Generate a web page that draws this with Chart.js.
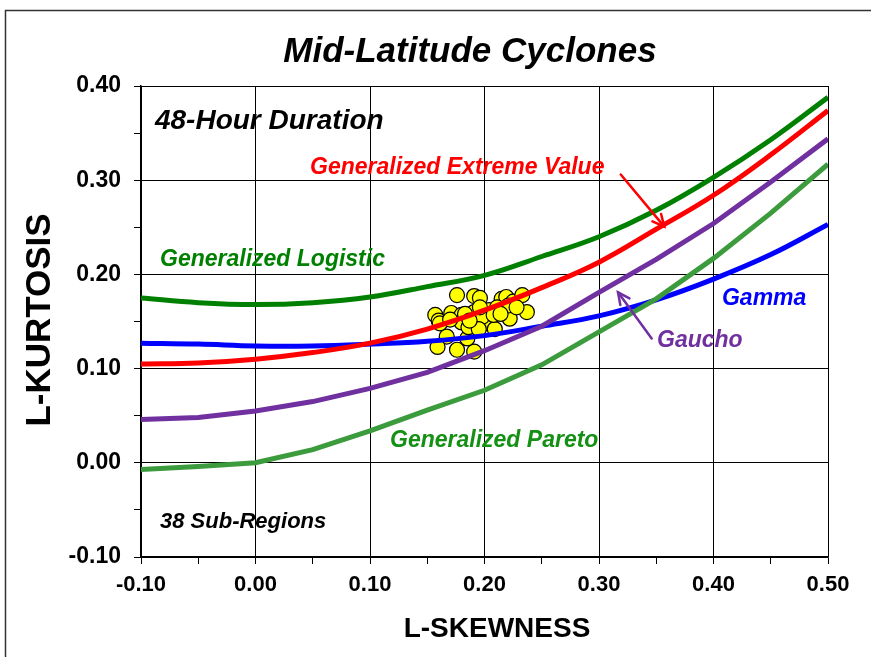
<!DOCTYPE html>
<html><head><meta charset="utf-8">
<script src="https://cdn.jsdelivr.net/npm/chart.js@4.4.1/dist/chart.umd.min.js"></script>
<style>html,body{margin:0;padding:0;background:#fff;overflow:hidden}#wrap{position:absolute;left:0;top:0;width:871px;height:657px}</style>
</head><body><div id="wrap"><canvas id="c" width="871" height="657"></canvas></div>
<script>
// L-skewness grid for theoretical curves
const skewGrid = [-0.10,-0.05,0.00,0.05,0.10,0.15,0.20,0.25,0.30,0.35,0.40,0.45,0.50];
const gloKurt    = [0.175,0.170,0.168,0.170,0.176,0.187,0.199,0.219,0.240,0.268,0.303,0.343,0.388];
const gevKurt    = [0.105,0.106,0.110,0.117,0.127,0.142,0.162,0.186,0.213,0.248,0.284,0.327,0.374];
const gammaKurt  = [0.127,0.126,0.124,0.124,0.126,0.129,0.135,0.145,0.156,0.173,0.195,0.221,0.253];
const gauchoKurt = [0.046,0.048,0.055,0.065,0.079,0.096,0.119,0.145,0.181,0.216,0.254,0.298,0.344];
const gpaKurt    = [-0.007,-0.004,0.000,0.014,0.034,0.056,0.077,0.104,0.139,0.174,0.217,0.265,0.317];
// 38 sub-regions (L-skewness, L-kurtosis)
const siteSkew = [0.176,0.191,0.196,0.157,0.160,0.171,0.180,0.180,0.191,0.192,0.201,0.204,0.215,0.219,0.225,0.233,0.216,0.222,0.237,0.211,0.167,0.159,0.176,0.191,0.185,0.186,0.198,0.209,0.221,0.183,0.195,0.208,0.228,0.187,0.214,0.196,0.161,0.170];
const siteKurt = [0.178,0.177,0.175,0.157,0.151,0.159,0.157,0.149,0.160,0.151,0.148,0.162,0.174,0.176,0.171,0.178,0.160,0.153,0.160,0.165,0.134,0.123,0.120,0.118,0.132,0.144,0.155,0.142,0.167,0.158,0.142,0.157,0.165,0.151,0.158,0.165,0.148,0.152];
// tick labels
const xTickLabels = ['-0.10','0.00','0.10','0.20','0.30','0.40','0.50'];
const yTickLabels = ['-0.10','0.00','0.10','0.20','0.30','0.40'];
const yTickValues = [-0.10,-0.05,0.00,0.05,0.10,0.15,0.20,0.25,0.30,0.35,0.40];

const FONT = '"Liberation Sans", Arial, sans-serif';
const curve = (ys) => skewGrid.map((x,i)=>({x:x,y:ys[i]}));
const lineDs = (label, ys, color, order, tension) => ({
  label, data: curve(ys), showLine: true, borderColor: color, borderWidth: 5,
  pointRadius: 0, pointHoverRadius: 0, fill: false, order, tension: tension
});

const annot = {
  id: 'annot',
  afterDraw(chart) {
    const c = chart.ctx, X = chart.scales.x, Y = chart.scales.y;
    const px = v => X.getPixelForValue(v), py = v => Y.getPixelForValue(v);
    c.save();
    // outer frame
    c.strokeStyle = '#333'; c.lineWidth = 1.5;
    c.beginPath(); c.moveTo(5.5, 660); c.lineTo(5.5, 10.5); c.lineTo(875, 10.5); c.stroke();
    // title
    c.fillStyle = '#000'; c.textAlign = 'center'; c.textBaseline = 'middle';
    c.font = 'italic bold 35px ' + FONT;
    c.fillText('Mid-Latitude Cyclones', 470, 52);
    // axis titles
    c.font = 'bold 28px ' + FONT;
    c.fillText('L-SKEWNESS', 497, 629);
    c.font = 'bold 35px ' + FONT;
    c.save(); c.translate(40, 320); c.rotate(-Math.PI/2);
    c.fillText('L-KURTOSIS', 0, 0); c.restore();
    // annotations
    c.textAlign = 'left';
    const txt = (s, x, y, color, size) => { c.fillStyle = color; c.font = 'italic bold ' + size + 'px ' + FONT; c.fillText(s, px(x), py(y)); };
    txt('48-Hour Duration', -0.0878, 0.363, '#000', 28);
    txt('38 Sub-Regions', -0.0834, -0.0628, '#000', 22);
    txt('Generalized Extreme Value', 0.0476, 0.313, '#FF0000', 23);
    txt('Generalized Logistic', -0.0834, 0.2158, '#008000', 23);
    txt('Gamma', 0.4074, 0.1745, '#0000FF', 23);
    txt('Gaucho', 0.3507, 0.130, '#7030A0', 23);
    txt('Generalized Pareto', 0.1175, 0.023, '#149014', 23);
    // arrows
    const arrow = (x1, y1, x2, y2, color) => {
      const a = px(x1), b = py(y1), e = px(x2), f = py(y2);
      c.strokeStyle = color; c.lineWidth = 2.5; c.lineCap = 'round';
      c.beginPath(); c.moveTo(a, b); c.lineTo(e, f); c.stroke();
      const ang = Math.atan2(f - b, e - a), L = 13, w = 0.45;
      c.beginPath();
      c.moveTo(e - L*Math.cos(ang - w), f - L*Math.sin(ang - w));
      c.lineTo(e, f);
      c.lineTo(e - L*Math.cos(ang + w), f - L*Math.sin(ang + w));
      c.stroke();
    };
    arrow(0.319, 0.306, 0.357, 0.2507, '#FF0000');
    arrow(0.346, 0.132, 0.3166, 0.181, '#7030A0');
    c.restore();
  }
};

new Chart(document.getElementById('c'), {
  type: 'scatter',
  data: { datasets: [
    lineDs('Generalized Extreme Value', gevKurt, '#FF0000', 1, 0.4),
    lineDs('Gaucho', gauchoKurt, '#7030A0', 2, 0),
    lineDs('Generalized Pareto', gpaKurt, '#3C9B3C', 3, 0),
    lineDs('Generalized Logistic', gloKurt, '#008000', 4, 0.4),
    lineDs('Gamma', gammaKurt, '#0000FF', 5, 0.4),
    { label: '38 Sub-Regions', data: siteSkew.map((x,i)=>({x:x,y:siteKurt[i]})), order: 6,
      pointRadius: 7.5, pointHoverRadius: 7.5, backgroundColor: '#FFFF00', borderColor: '#000', borderWidth: 1.2, showLine: false }
  ]},
  options: {
    responsive: false, animation: false, devicePixelRatio: 1,
    layout: { padding: { top: 86, right: 43, left: 0, bottom: 0 } },
    plugins: { legend: { display: false }, tooltip: { enabled: false }, title: { display: false } },
    scales: {
      x: {
        type: 'linear', min: -0.1, max: 0.5,
        afterBuildTicks: s => { s.ticks = skewGrid.map(v => ({ value: v })); },
        afterFit: s => { s.height = 100; },
        ticks: { autoSkip: false, maxRotation: 0, padding: 8, color: '#000',
          font: { family: FONT, size: 22, weight: 'bold' },
          callback: (v, i) => (i % 2 === 0 ? xTickLabels[i / 2] : '') },
        grid: { color: ctx => (ctx.index % 2 === 0 ? '#000' : 'rgba(0,0,0,0)'), tickColor: '#000', tickLength: 7, lineWidth: 1 },
        border: { display: true, color: '#000', width: 1.5 }
      },
      y: {
        type: 'linear', min: -0.1, max: 0.4,
        afterBuildTicks: s => { s.ticks = yTickValues.map(v => ({ value: v })); },
        afterFit: s => { s.width = 141; },
        ticks: { autoSkip: false, padding: 13, color: '#000',
          font: { family: FONT, size: 23, weight: 'bold' },
          callback: (v, i) => (i % 2 === 0 ? yTickLabels[i / 2] : '') },
        grid: { color: ctx => (ctx.index % 2 === 0 ? '#000' : 'rgba(0,0,0,0)'), tickColor: '#000', tickLength: 7, lineWidth: 1 },
        border: { display: true, color: '#000', width: 1.5 }
      }
    }
  },
  plugins: [annot]
});
</script></body></html>
